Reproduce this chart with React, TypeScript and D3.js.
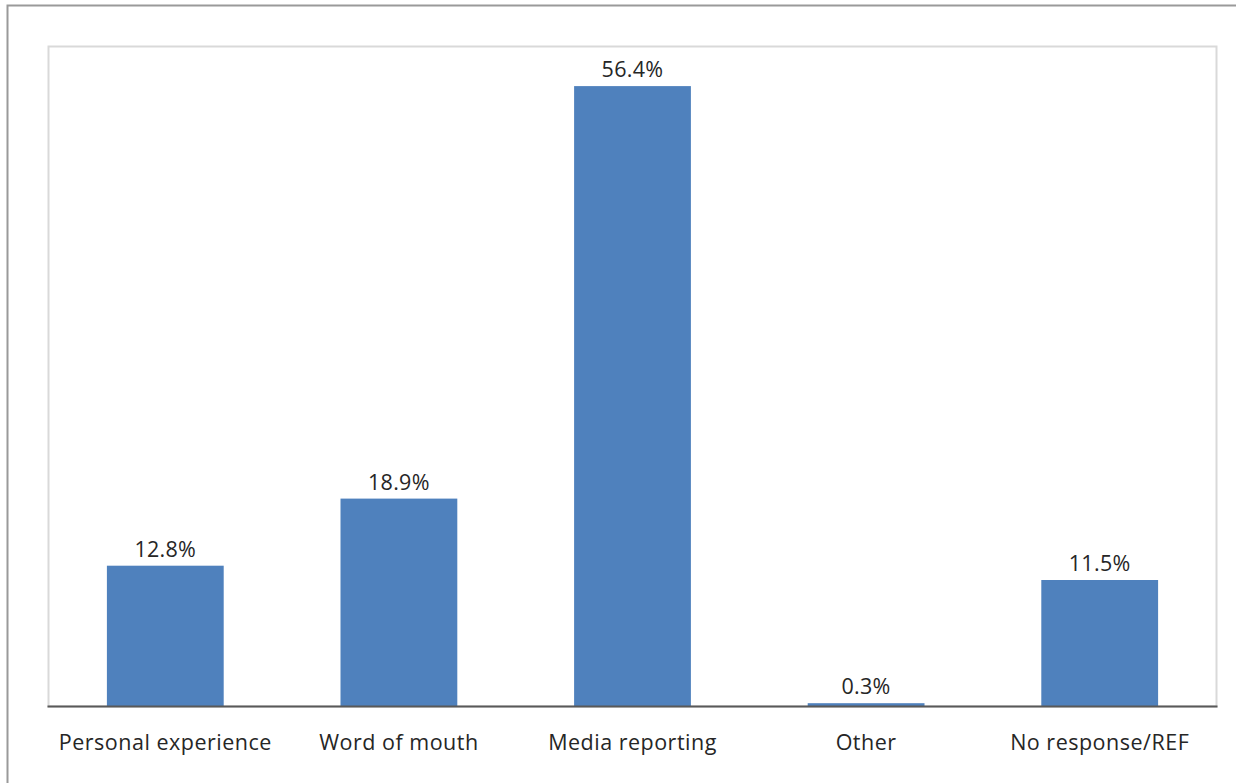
import React from "react";
import * as d3 from "d3";

const categories = ["Personal experience", "Word of mouth", "Media reporting", "Other", "No response/REF"];
const values = [12.8, 18.9, 56.4, 0.3, 11.5];
const valueLabels = ["12.8%", "18.9%", "56.4%", "0.3%", "11.5%"];

export default function App() {
  const W = 1236, H = 783;
  const left = 48.5, right = 1216.5, top = 46.5, bottom = 706.5;
  const x = d3.scaleBand<string>().domain(categories).range([left, right]).paddingInner(0.5).paddingOuter(0.25);
  const y = d3.scaleLinear().domain([0, 60]).range([bottom, top]);
  const font = "Open Sans, sans-serif";
  return (
    <svg width={W} height={H} style={{ position: "absolute", left: 0, top: 0, background: "#fff" }}>
      <rect x={7.5} y={5.5} width={W + 20} height={H + 20} fill="#fff" stroke="#9a9a9a" strokeWidth={2} />
      <rect x={left} y={top} width={right - left} height={bottom - top} fill="#fff" stroke="#d9d9d9" strokeWidth={2} />
      {categories.map((c, i) => (
        <g key={c}>
          <rect x={x(c)} y={y(values[i])} width={x.bandwidth()} height={Math.max(bottom - y(values[i]), 0)} fill="#4f81bd" />
          <text x={(x(c) as number) + x.bandwidth() / 2} y={y(values[i]) - 9} textAnchor="middle" fontFamily={font} fontSize={21.5} letterSpacing={0.3} fill="#262626">
            {valueLabels[i]}
          </text>
          <text x={(x(c) as number) + x.bandwidth() / 2} y={750} textAnchor="middle" fontFamily={font} fontSize={21.5} letterSpacing={0.5} fill="#262626">
            {c}
          </text>
        </g>
      ))}
      <line x1={left - 1} x2={right + 1} y1={bottom} y2={bottom} stroke="#595959" strokeWidth={2} />
    </svg>
  );
}
